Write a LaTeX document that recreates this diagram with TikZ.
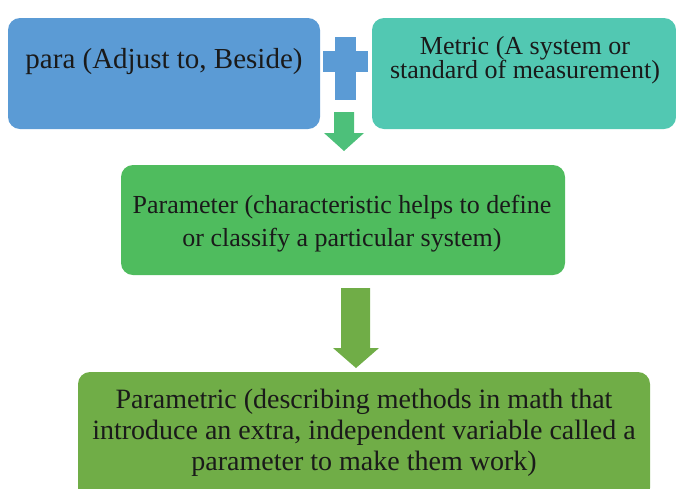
\documentclass[tikz,border=0pt]{standalone}
\usepackage{fontspec}
\setmainfont{Liberation Serif}
\definecolor{cblue}{HTML}{5B9BD5}
\definecolor{cteal}{HTML}{52C8B2}
\definecolor{cgreenA}{HTML}{4DC07A}
\definecolor{cgreenB}{HTML}{4FBC5E}
\definecolor{cgreenC}{HTML}{70AD47}
\definecolor{ctext}{HTML}{1A1A1A}
\begin{document}
\begin{tikzpicture}[x=1pt,y=-1pt,
  box/.style={rounded corners=12pt, draw=none},
  txt/.style={text=ctext, align=center, inner sep=0pt}]
\useasboundingbox (0,0) rectangle (676,488);
% boxes
\fill[box, fill=cblue] (8,18) rectangle (320,129);
\node[txt, font=\fontsize{29}{30}\selectfont] (para) at (164,62) {para (Adjust to, Beside)};
\fill[box, fill=cteal] (372,18) rectangle (676,129);
\node[txt, font=\fontsize{26}{24}\selectfont] (metric) at (525,60) {Metric (A system or\\standard of measurement)};
\fill[box, fill=cgreenB] (121,165) rectangle (565,275);
\node[txt, font=\fontsize{26}{33}\selectfont] (param) at (342,224) {Parameter (characteristic helps to define\\or classify a particular system)};
\fill[box, fill=cgreenC] (78,372) rectangle (650,500);
\node[txt, font=\fontsize{28}{31}\selectfont] (parametric) at (364,433) {Parametric (describing methods in math that\\introduce an extra, independent variable called a\\parameter to make them work)};
% plus sign
\fill[cblue] (335,37) rectangle (356,100);
\fill[cblue] (323,51) rectangle (368,72);
% small arrow
\fill[cgreenA] (334,112) -- (354,112) -- (354,133) -- (364,133) -- (344,151) -- (324,133) -- (334,133) -- cycle;
% big arrow
\fill[cgreenC] (341,288) -- (370,288) -- (370,348) -- (379,348) -- (356,368) -- (333,348) -- (341,348) -- cycle;
\end{tikzpicture}
\end{document}
